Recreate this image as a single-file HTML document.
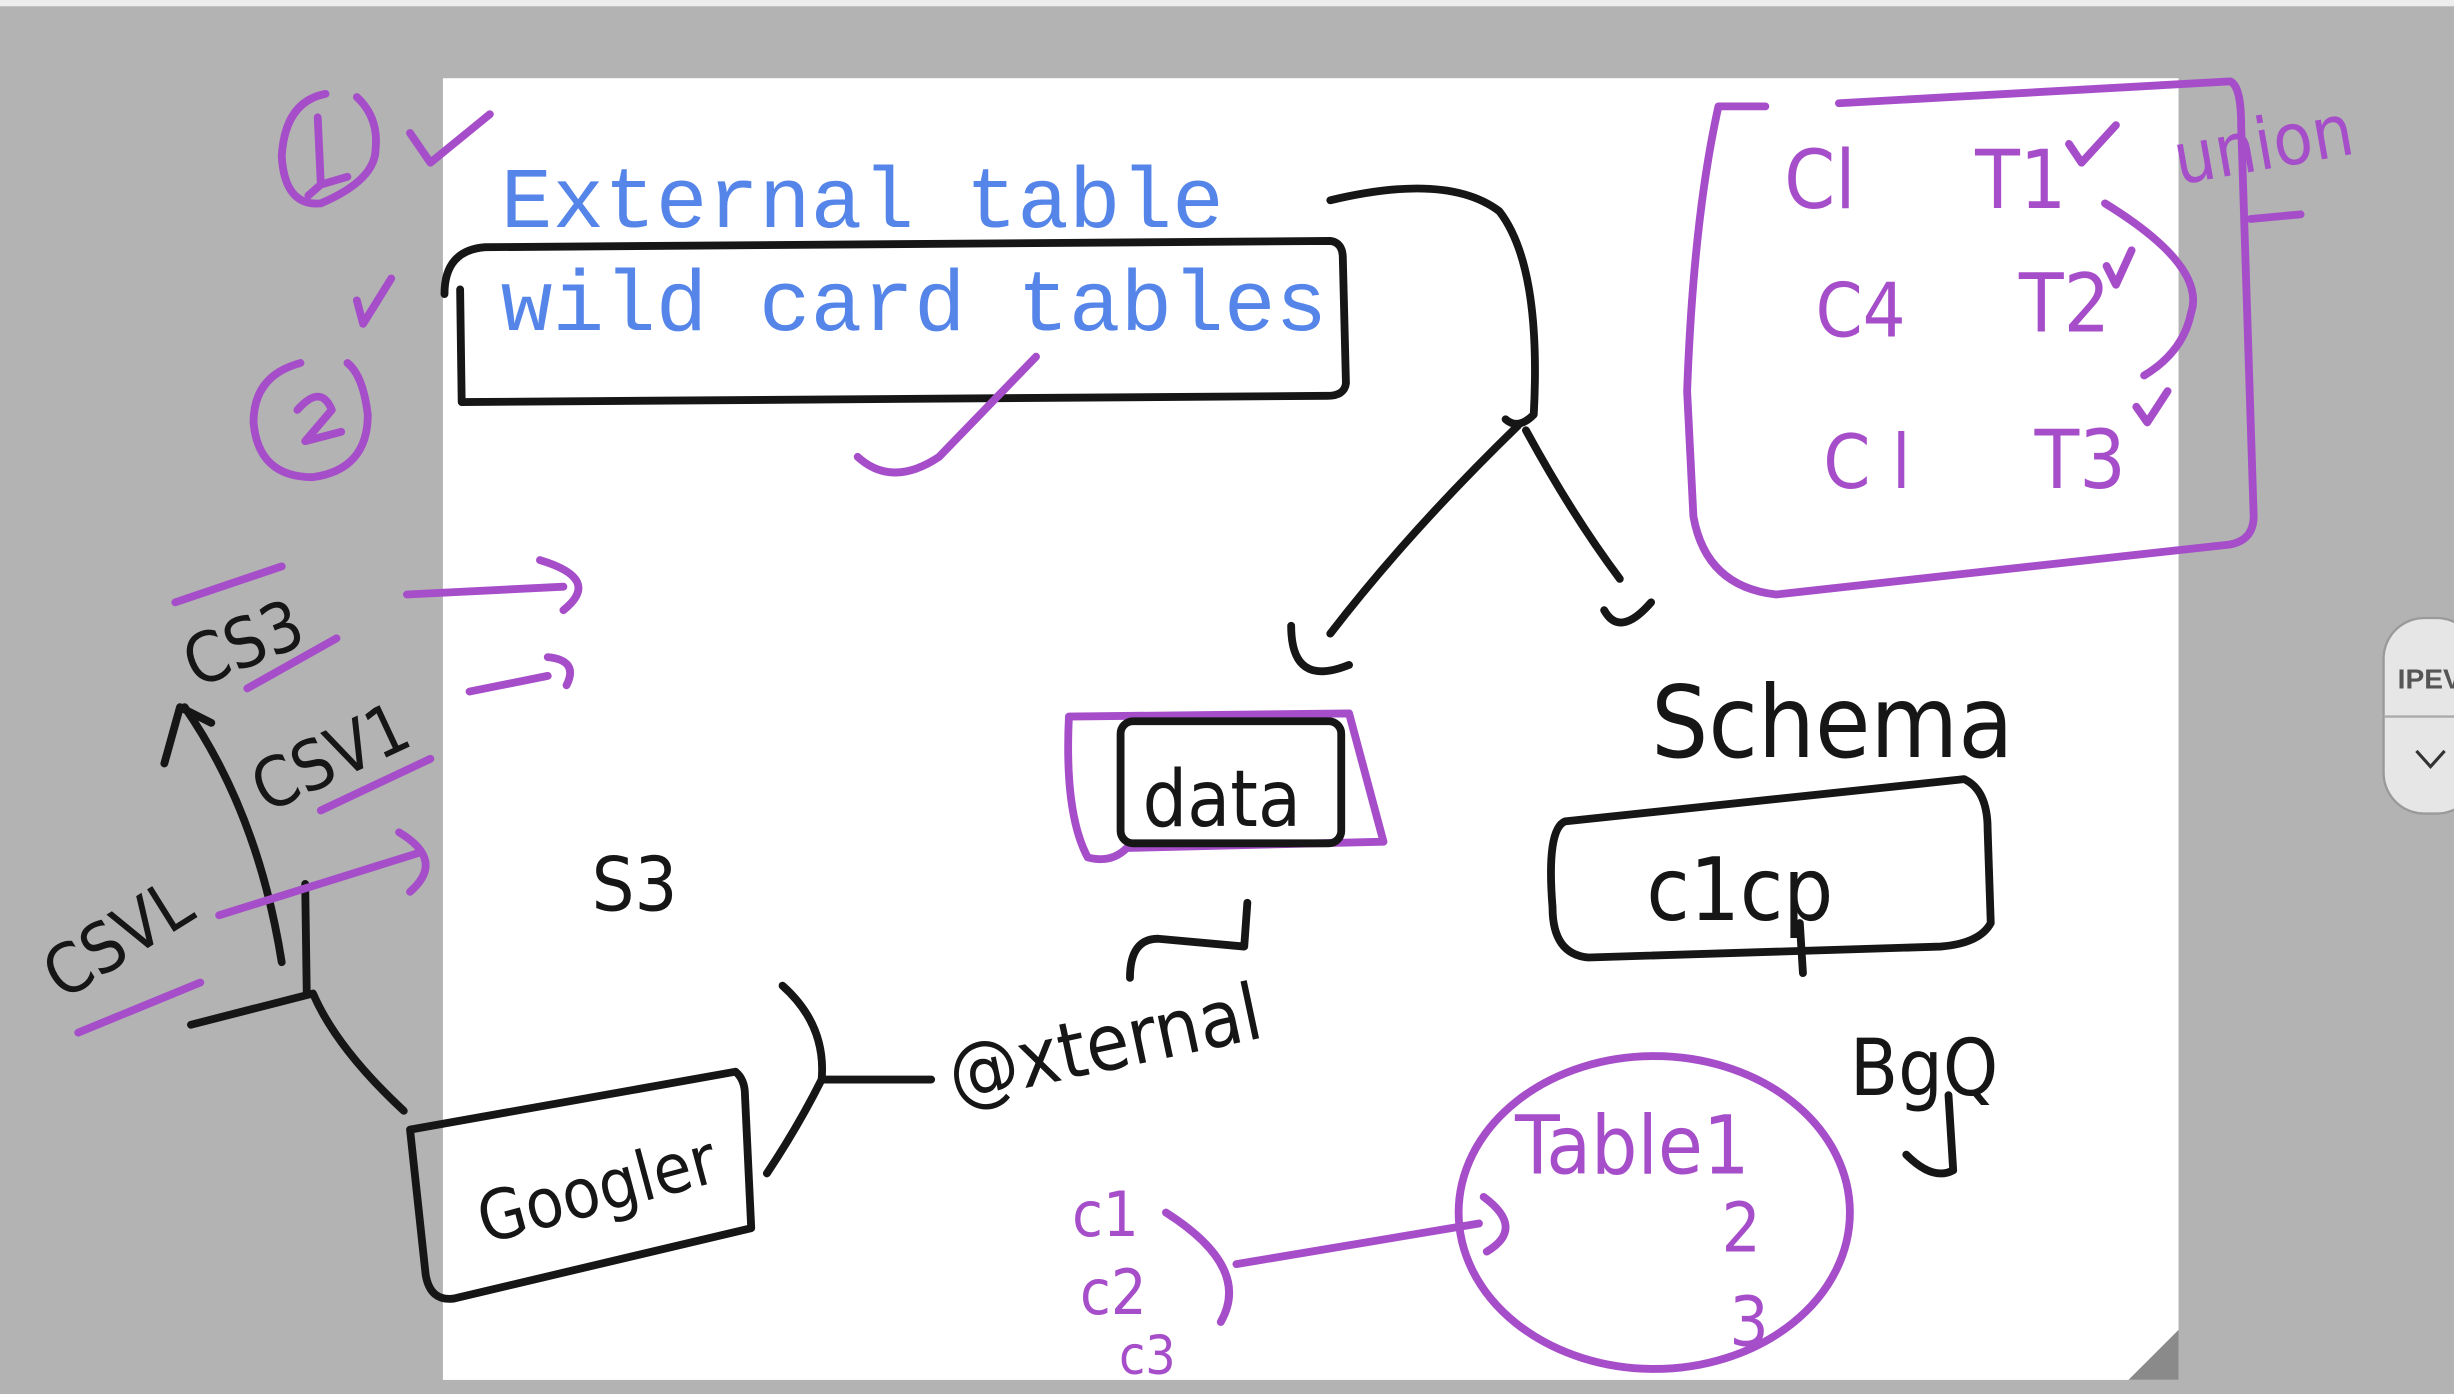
<!DOCTYPE html>
<html><head><meta charset="utf-8"><style>
html,body{margin:0;padding:0;background:#b3b3b3;}
svg{display:block}
.k{fill:none;stroke:#161616;stroke-width:5;stroke-linecap:round;stroke-linejoin:round}
.p{fill:none;stroke:#a64ec9;stroke-width:5;stroke-linecap:round;stroke-linejoin:round}
.hk{font-family:"DejaVu Sans Condensed","DejaVu Sans",sans-serif;fill:#161616}
.hp{font-family:"DejaVu Sans Condensed","DejaVu Sans",sans-serif;fill:#a64ec9}
</style></head><body>
<svg width="2454" height="1394" viewBox="0 0 1568 891" preserveAspectRatio="none" xmlns="http://www.w3.org/2000/svg">
<rect x="0" y="0" width="1568" height="891" fill="#b3b3b3"/>
<rect x="0" y="0" width="1568" height="4" fill="#ededed"/>
<rect x="283" y="50" width="1109" height="832" fill="#ffffff"/>
<polygon points="1360,882 1392,850 1392,882" fill="#8a8a8a"/>

<text x="320" y="145" font-family="Liberation Mono,monospace" font-size="55" fill="#5585e8">External table</text>
<text x="320" y="211" font-family="Liberation Mono,monospace" font-size="55" fill="#5585e8">wild card tables</text>
<path class="k" d="M284,188 Q284,160 310,158 L850,154 Q858,155 858,165 L860,245 Q859,253 848,253 L295,257 L294,185"/>
<path class="p" d="M548,292 Q570,312 600,292 L662,228"/>

<path class="p" d="M208,60 Q182,65 180,100 Q182,132 205,130 Q240,115 240,95 Q242,75 228,62"/>
<path class="p" d="M203,75 L205,118 L197,125 M205,118 L222,113"/>
<path class="p" d="M262,85 L275,104 L313,73"/>
<path class="p" d="M228,192 L232,207 L250,178"/>
<path class="p" d="M192,232 Q162,240 162,270 Q165,305 200,305 Q235,300 235,265 Q232,240 222,232"/>
<path class="p" d="M190,262 Q205,245 212,262 L195,282 L218,276"/>
<text class="hk" x="125" y="440" font-size="44" transform="rotate(-22 125 440)">CS3</text>
<path class="p" d="M112,385 L180,362 M158,440 L215,408"/>
<text class="hk" x="170" y="520" font-size="44" transform="rotate(-25 170 520)">CSV1</text>
<path class="p" d="M205,518 L275,485"/>
<text class="hk" x="40" y="640" font-size="44" transform="rotate(-32 40 640)">CSVL</text>
<path class="p" d="M50,660 L128,628" stroke-width="7"/>
<path class="k" d="M180,615 Q165,520 118,452 M105,488 L115,452 L135,462"/>
<path class="k" d="M195,565 L196,635 M122,655 L200,635 Q215,670 258,710"/>
<path class="p" d="M260,380 L360,375 M345,358 Q385,370 360,390"/>
<path class="p" d="M300,442 L350,432 M350,420 Q370,422 362,438"/>
<path class="p" d="M140,585 L268,545 M255,532 Q285,550 262,570"/>
<text class="hk" x="378" y="582" font-size="48">S3</text>

<path class="k" d="M262,722 L470,685 Q476,690 476,700 L480,785 L290,830 Q275,832 272,815 Z"/>
<text class="hk" x="310" y="795" font-size="44" transform="rotate(-15 310 795)">Googler</text>
<path class="k" d="M500,630 Q528,655 525,690 Q510,720 490,750 M525,690 L595,690"/>
<text class="hk" x="610" y="705" font-size="50" transform="rotate(-12 610 705)">@xternal</text>

<path class="k" d="M850,128 Q925,110 958,135 Q985,170 980,265 Q970,275 962,268 M970,272 Q900,340 850,405 M825,400 Q825,440 862,425 M975,275 Q1005,330 1035,370 M1025,390 Q1035,408 1055,385"/>

<path class="p" d="M683,458 L862,456 L884,538 L720,542 Q710,552 695,548 Q680,520 683,458"/>
<rect x="716" y="461" width="141" height="78" rx="8" class="k"/>
<text class="hk" x="730" y="528" font-size="50">data</text>
<path class="k" d="M722,625 Q722,600 740,600 L795,605 L797,577"/>

<text class="hk" x="1055" y="484" font-size="64">Schema</text>
<path class="k" d="M1000,525 L1255,498 Q1270,505 1270,530 L1272,590 Q1265,603 1240,605 L1015,612 Q992,610 992,580 Q988,530 1000,525 Z"/>
<text class="hk" x="1052" y="588" font-size="56">c1cp</text>
<path class="k" d="M1150,590 L1152,622"/>
<text class="hk" x="1182" y="700" font-size="50">BgQ</text>
<path class="k" d="M1245,700 L1248,748 Q1235,755 1218,738"/>

<ellipse cx="1057" cy="775" rx="125" ry="100" class="p"/>
<text class="hp" x="968" y="750" font-size="52">Table1</text>
<text class="hp" x="1100" y="800" font-size="44">2</text>
<text class="hp" x="1105" y="860" font-size="44">3</text>
<text class="hp" x="685" y="790" font-size="40">c1</text>
<text class="hp" x="690" y="840" font-size="40">c2</text>
<text class="hp" x="715" y="878" font-size="34">c3</text>
<path class="p" d="M745,775 Q800,810 780,845 M790,808 L945,782 M948,765 Q975,785 950,800"/>

<path class="p" d="M1098,68 L1128,68 M1175,66 L1425,52 Q1432,55 1432,80 L1440,330 Q1440,345 1425,348 L1135,380 Q1090,375 1082,330 L1078,250 Q1082,140 1098,68"/>
<text class="hp" x="1140" y="133" font-size="52">Cl</text>
<text class="hp" x="1262" y="133" font-size="52">T1</text>
<text class="hp" x="1160" y="215" font-size="48">C4</text>
<text class="hp" x="1290" y="212" font-size="52">T2</text>
<text class="hp" x="1165" y="312" font-size="48">C l</text>
<text class="hp" x="1300" y="312" font-size="52">T3</text>
<path class="p" d="M1322,92 L1330,104 L1352,80 M1346,170 L1352,182 L1362,160 M1365,260 L1372,270 L1385,250"/>
<path class="p" d="M1345,130 Q1410,170 1400,200 Q1395,225 1370,240"/>
<text class="hp" x="1392" y="118" font-size="46" transform="rotate(-10 1392 118)">union</text>
<path class="p" d="M1438,140 L1470,137"/>

<rect x="1523" y="395" width="60" height="125" rx="26" fill="#e6e6e6" stroke="#9a9a9a" stroke-width="1.5"/>
<text x="1532" y="440" font-family="Liberation Sans,sans-serif" font-weight="bold" font-size="18" fill="#555">IPEVI</text>
<line x1="1523" y1="458" x2="1568" y2="458" stroke="#aaa" stroke-width="1.5"/>
<path d="M1544,480 L1553,490 L1562,480" fill="none" stroke="#333" stroke-width="2"/>
</svg>
</body></html>
